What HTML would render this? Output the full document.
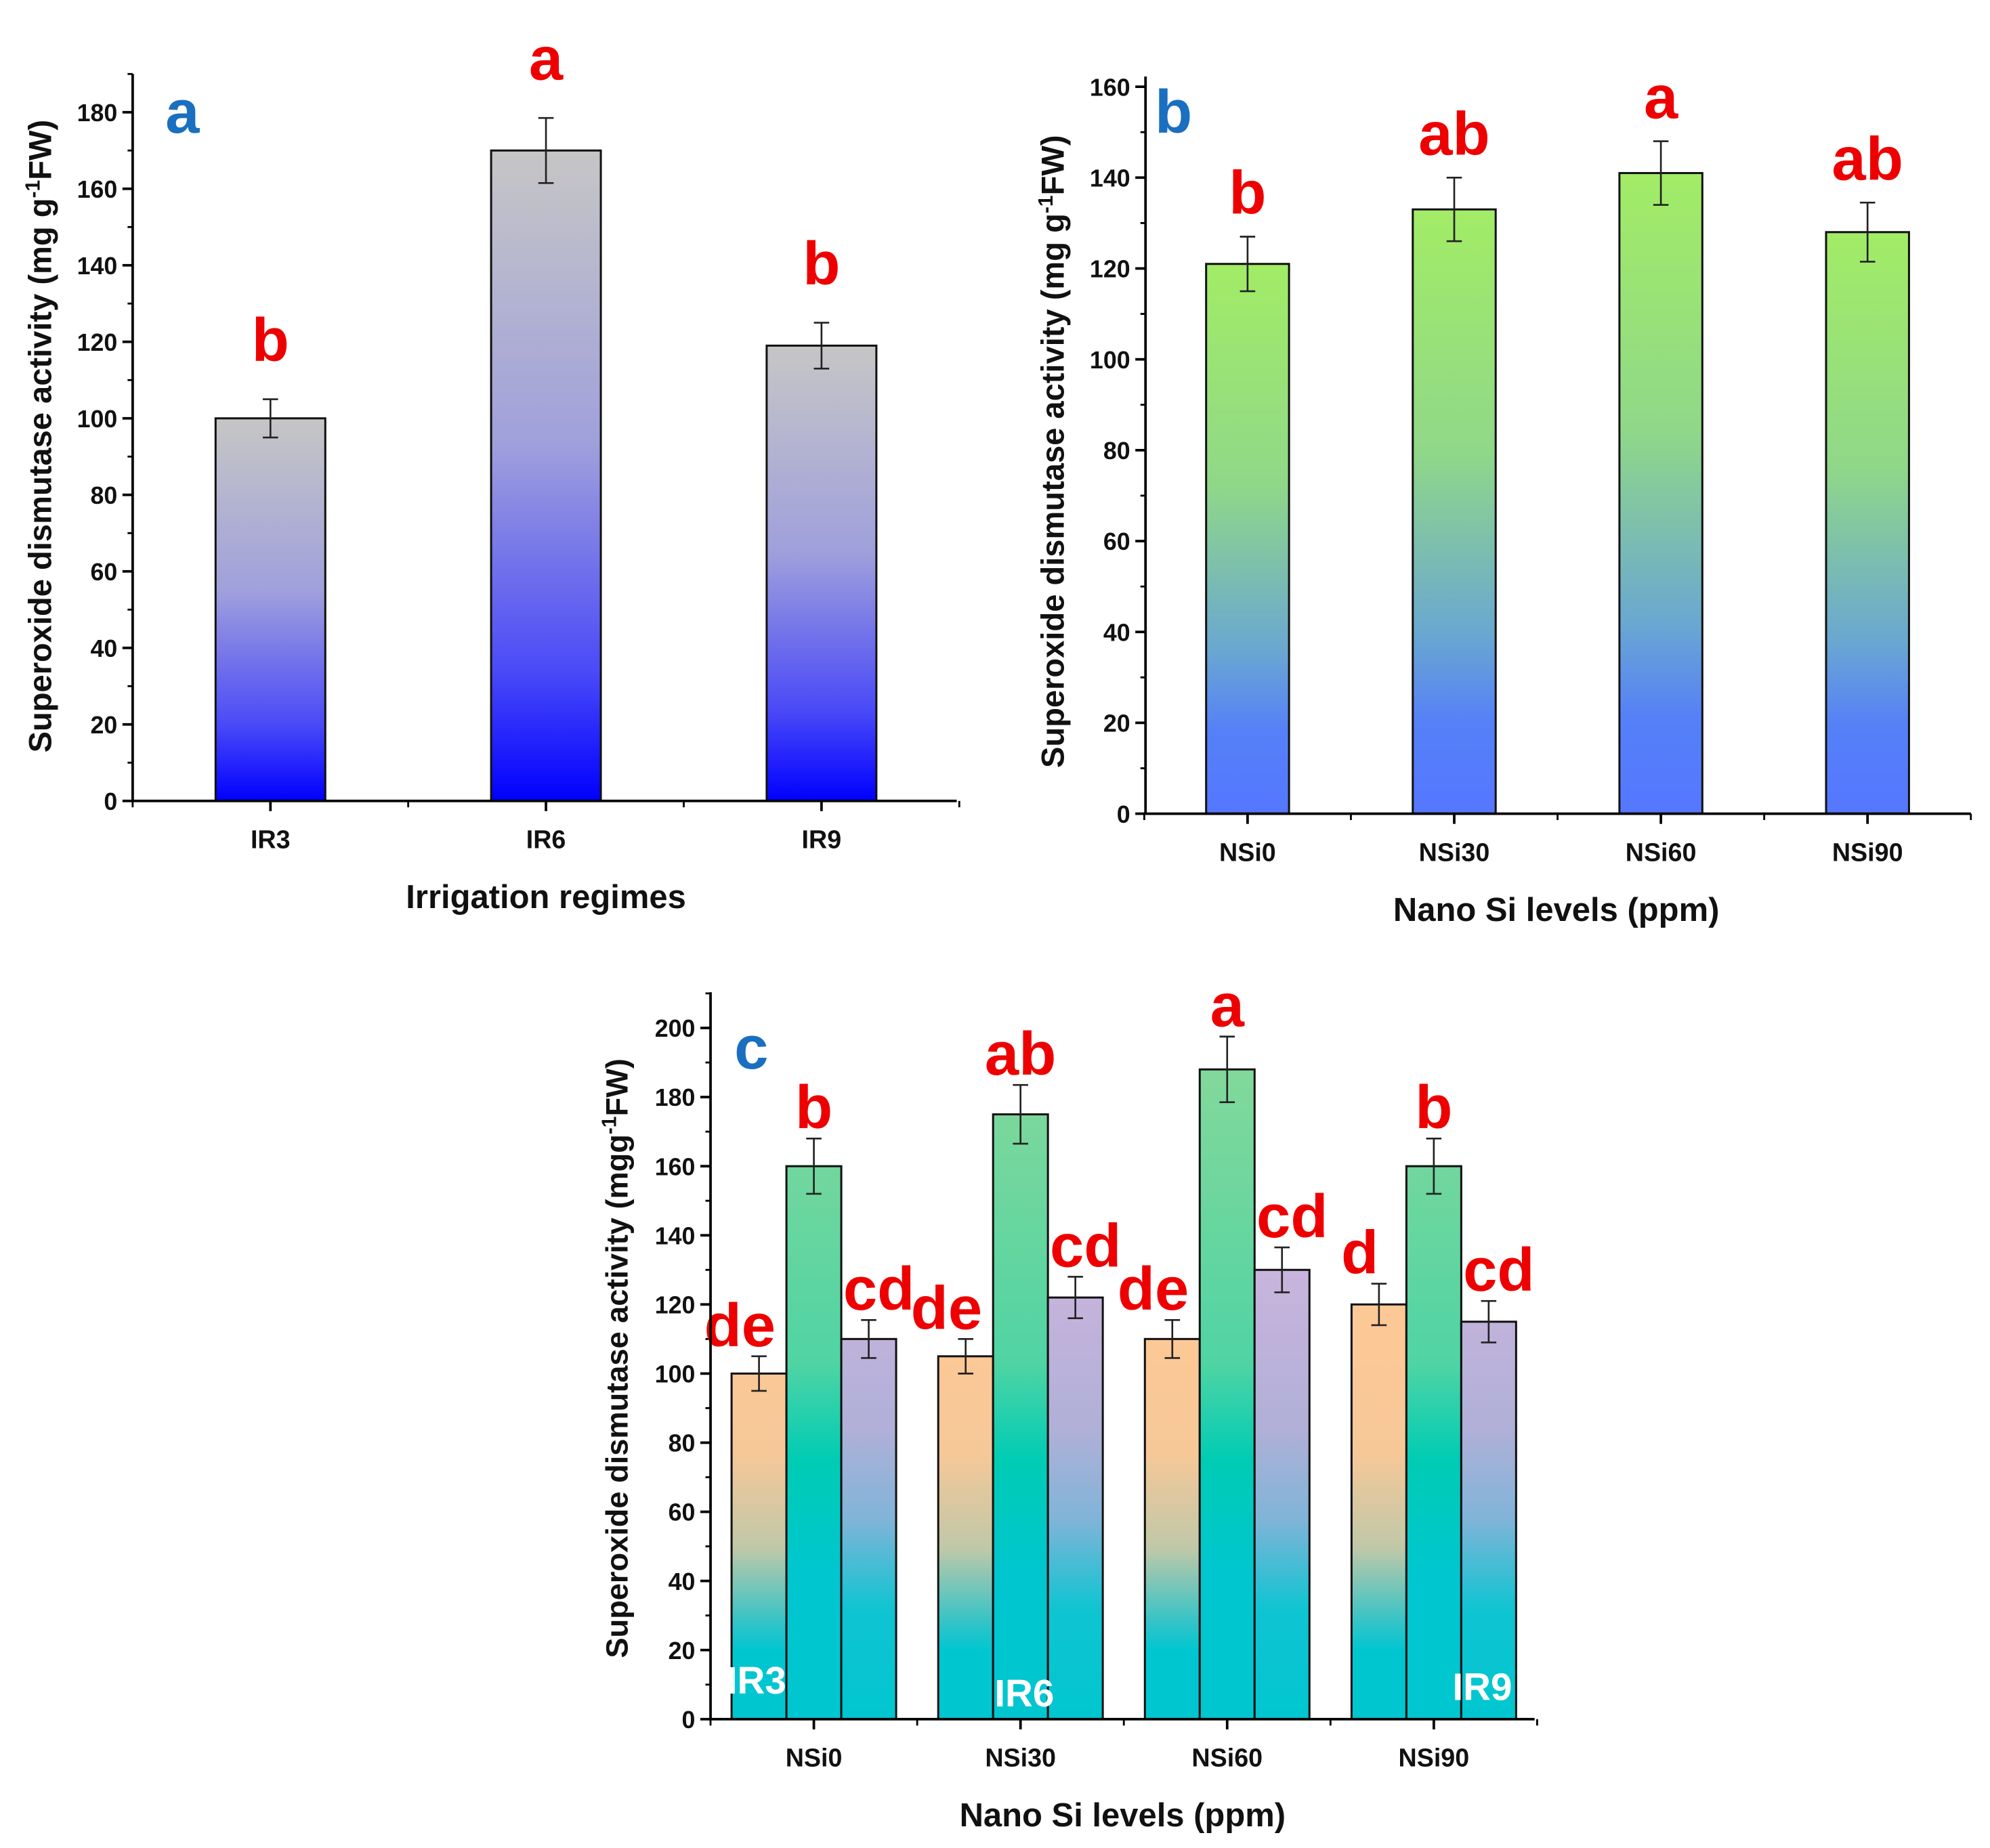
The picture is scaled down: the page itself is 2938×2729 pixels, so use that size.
<!DOCTYPE html>
<html><head><meta charset="utf-8"><style>
html,body{margin:0;padding:0;background:#fff}
svg{display:block}
text{font-family:"Liberation Sans",Arial,sans-serif;font-weight:bold}
</style></head><body>
<svg id="root" width="2938" height="2729" viewBox="0 0 1560 1449" xmlns="http://www.w3.org/2000/svg">
<defs>
<linearGradient id="gA" x1="0" y1="0" x2="0" y2="1"><stop offset="0" stop-color="#c6c6c6"/><stop offset="0.45" stop-color="#a0a0dc"/><stop offset="0.8" stop-color="#4a4af8"/><stop offset="1" stop-color="#0000ff"/></linearGradient>
<linearGradient id="gB" x1="0" y1="0" x2="0" y2="1"><stop offset="0" stop-color="#a2ec66"/><stop offset="0.4" stop-color="#90d888"/><stop offset="0.7" stop-color="#6aa8d0"/><stop offset="0.85" stop-color="#5580f8"/><stop offset="1" stop-color="#5577ff"/></linearGradient>
<linearGradient id="gOr" gradientUnits="userSpaceOnUse" x1="0" y1="1050" x2="0" y2="1348"><stop offset="0" stop-color="#fcc896"/><stop offset="0.3" stop-color="#f6c898"/><stop offset="0.55" stop-color="#c0c8a8"/><stop offset="0.75" stop-color="#30c4c8"/><stop offset="0.82" stop-color="#00c6d0"/><stop offset="1" stop-color="#00c6d0"/></linearGradient>
<linearGradient id="gGr" gradientUnits="userSpaceOnUse" x1="0" y1="840" x2="0" y2="1348"><stop offset="0" stop-color="#82d89a"/><stop offset="0.45" stop-color="#50d4a4"/><stop offset="0.6" stop-color="#00ccb4"/><stop offset="0.78" stop-color="#00c6d0"/><stop offset="1" stop-color="#00c6d0"/></linearGradient>
<linearGradient id="gPu" gradientUnits="userSpaceOnUse" x1="0" y1="1000" x2="0" y2="1348"><stop offset="0" stop-color="#c8b4dc"/><stop offset="0.35" stop-color="#b0b0d8"/><stop offset="0.55" stop-color="#80b4d8"/><stop offset="0.75" stop-color="#10c4d2"/><stop offset="1" stop-color="#00c6d0"/></linearGradient>
</defs>
</svg>
<script>
// Panel a data
const catsA = ['IR3','IR6','IR9'];
const valsA = [100,170,119];
const errA = [5,8.5,6];
const letA = ['b','a','b'];
// Panel b data
const catsB = ['NSi0','NSi30','NSi60','NSi90'];
const valsB = [121,133,141,128];
const errB = [6,7,7,6.5];
const letB = ['b','ab','a','ab'];
// Panel c data
const catsC = ['NSi0','NSi30','NSi60','NSi90'];
const valsIR3 = [100,105,110,120];
const valsIR6 = [160,175,188,160];
const valsIR9 = [110,122,130,115];
const errIR3 = [5,5,5.5,6];
const errIR6 = [8,8.5,9.5,8];
const errIR9 = [5.5,6,6.5,6];
const letIR3 = ['de','de','de','d'];
const letIR6 = ['b','ab','a','b'];
const letIR9 = ['cd','cd','cd','cd'];
const ticksA = [0,20,40,60,80,100,120,140,160,180];
const ticksB = [0,20,40,60,80,100,120,140,160];
const ticksC = [0,20,40,60,80,100,120,140,160,180,200];

const NS='http://www.w3.org/2000/svg';
const root=document.getElementById('root');
function mk(tag,attrs,parent,txt){const e=document.createElementNS(NS,tag);for(const k in attrs)e.setAttribute(k,attrs[k]);if(txt!==undefined)e.textContent=txt;(parent||root).appendChild(e);return e;}

function panel(cfg){
  const g=mk('g',{});
  
  
  const y=v=>cfg.y0-(v/cfg.step)*cfg.stepPx;
  const x=i=>cfg.xs0+i*cfg.dx;
  cfg.ticks.forEach(t=>{
    mk('line',{x1:cfg.ax,x2:cfg.ax-8,y1:y(t),y2:y(t),stroke:'#000','stroke-width':2},g);
    if(y(t+cfg.step/2)>=cfg.ytop) mk('line',{x1:cfg.ax,x2:cfg.ax-4,y1:y(t+cfg.step/2),y2:y(t+cfg.step/2),stroke:'#000','stroke-width':1.5},g);
    const tl=mk('text',{x:cfg.ax-12,y:y(t)+7,'text-anchor':'end','font-size':19,fill:'#111'},g,String(t));
    
    
  });
  cfg.series.forEach((s,si)=>{
    s.vals.forEach((v,i)=>{
      const cx=x(i)+s.off;
      const r=mk('rect',{x:cx-cfg.bw/2,y:y(v),width:cfg.bw,height:cfg.y0-y(v),fill:s.fill,stroke:'#111','stroke-width':1.6},g);
      
      
      const e=s.err[i];
      mk('line',{x1:cx,x2:cx,y1:y(v+e),y2:y(v-e),stroke:'#222','stroke-width':1.4},g);
      mk('line',{x1:cx-6,x2:cx+6,y1:y(v+e),y2:y(v+e),stroke:'#222','stroke-width':1.4},g);
      mk('line',{x1:cx-6,x2:cx+6,y1:y(v-e),y2:y(v-e),stroke:'#222','stroke-width':1.4},g);
      const lt=mk('text',{x:cx+(s.letOff||0),y:y(v+e)-cfg.letGap,'text-anchor':'middle','font-size':cfg.letSize,fill:'#ee0000'},g,s.lets[i]);
      
      
    });
  });
  mk('line',{x1:cfg.ax,x2:cfg.ax,y1:cfg.ytop,y2:cfg.y0+1,stroke:'#000','stroke-width':2},g);
  mk('line',{x1:cfg.ax,x2:cfg.xend,y1:cfg.y0,y2:cfg.y0,stroke:'#000','stroke-width':2},g);
  cfg.cats.forEach((c,i)=>{
    mk('line',{x1:x(i),x2:x(i),y1:cfg.y0,y2:cfg.y0+8,stroke:'#000','stroke-width':2},g);
    mk('line',{x1:x(i)+cfg.dx/2,x2:x(i)+cfg.dx/2,y1:cfg.y0,y2:cfg.y0+5,stroke:'#000','stroke-width':1.5},g);
    const tl=mk('text',{x:x(i),y:cfg.y0+37,'text-anchor':'middle','font-size':20,fill:'#111'},g,c);
    
    
  });
  mk('line',{x1:x(0)-cfg.dx/2,x2:x(0)-cfg.dx/2,y1:cfg.y0,y2:cfg.y0+5,stroke:'#000','stroke-width':1.5},g);
  const xt=mk('text',{x:cfg.xtX,y:cfg.y0+84,'text-anchor':'middle','font-size':26,fill:'#111'},g,cfg.xtitle);
  
  
  const yt=mk('text',{x:0,y:0,'text-anchor':'middle','font-size':cfg.ytSize,fill:'#111',transform:`translate(${cfg.ytX},${cfg.ytY}) rotate(-90)`},g);
  yt.innerHTML=cfg.ytitle;
  
  
  const pl=mk('text',{x:cfg.plX,y:cfg.plY,'text-anchor':'middle','font-size':48,fill:'#1a6fc0'},g,cfg.pl);
  
  
  return {g,y,x};
}

panel({name:'chart-a',cats:catsA,ticks:ticksA,step:20,stepPx:60,y0:628,ax:104,ytop:58,xend:750,xs0:212,dx:216,bw:86,letGap:30,letSize:48,
  series:[{vals:valsA,err:errA,lets:letA,fill:'url(#gA)',off:0}],
  xtitle:'Irrigation regimes',xtX:428,ytX:40,ytY:342,ytSize:25,
  ytitle:'Superoxide dismutase activity (mg g<tspan dy="-9" font-size="16">-1</tspan><tspan dy="9">FW)</tspan>',pl:'a',plX:143,plY:104});

panel({name:'chart-b',cats:catsB,ticks:ticksB,step:20,stepPx:71.25,y0:638,ax:898,ytop:60,xend:1545,xs0:978,dx:162,bw:65,letGap:18,letSize:48,
  series:[{vals:valsB,err:errB,lets:letB,fill:'url(#gB)',off:0}],
  xtitle:'Nano Si levels (ppm)',xtX:1220,ytX:834,ytY:354,ytSize:25,
  ytitle:'Superoxide dismutase activity (mg g<tspan dy="-9" font-size="16">-1</tspan><tspan dy="9">FW)</tspan>',pl:'b',plX:920,plY:104});

panel({name:'chart-c',cats:catsC,ticks:ticksC,step:20,stepPx:54.2,y0:1348,ax:557,ytop:778,xend:1203,xs0:638,dx:162,bw:43,letGap:8,letSize:48,
  series:[
    {id:'ir3',vals:valsIR3,err:errIR3,lets:letIR3,fill:'url(#gOr)',off:-43,letOff:-15},
    {id:'ir6',vals:valsIR6,err:errIR6,lets:letIR6,fill:'url(#gGr)',off:0},
    {id:'ir9',vals:valsIR9,err:errIR9,lets:letIR9,fill:'url(#gPu)',off:43,letOff:8}],
  xtitle:'Nano Si levels (ppm)',xtX:880,ytX:492,ytY:1065,ytSize:24,
  ytitle:'Superoxide dismutase activity (mgg<tspan dy="-9" font-size="16">-1</tspan><tspan dy="9">FW)</tspan>',pl:'c',plX:589,plY:838});

const irLabels=[['IR3',593,1328],['IR6',803,1338],['IR9',1162,1333]];
irLabels.forEach(l=>{
  const t=mk('text',{x:l[1],y:l[2],'text-anchor':'middle','font-size':30,fill:'#ffffff','font-weight':'normal'},root,l[0]);
  
  
});
</script>
</body></html>
